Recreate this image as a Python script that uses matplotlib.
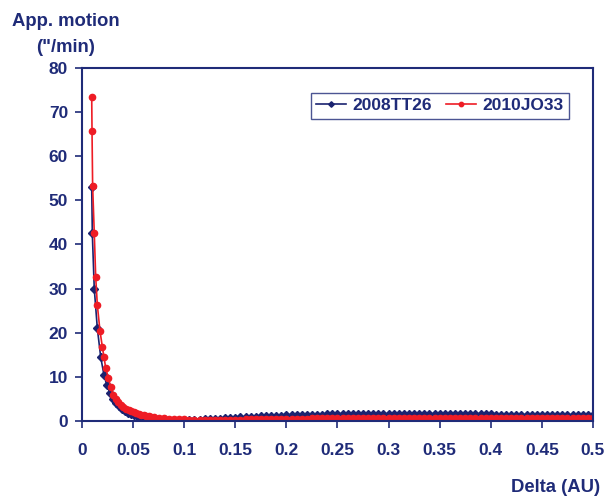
import matplotlib
matplotlib.use('Agg')
import matplotlib.pyplot as plt

plt.rcParams['font.family'] = ['Liberation Sans', 'DejaVu Sans']
plt.rcParams['font.weight'] = 'bold'

navy = '#1f2b78'
blue = '#1a2370'
red = '#ee1c25'

# 2008TT26 close to the Earth
tt26_head_delta = [0.0095, 0.0101, 0.012, 0.015, 0.0183, 0.0215, 0.0242, 0.0274, 0.030, 0.033,
                   0.036, 0.039, 0.042, 0.045, 0.048, 0.051, 0.054, 0.057, 0.060]
tt26_head_motion = [53.0, 42.5, 30.0, 21.0, 14.5, 10.4, 8.2, 6.3, 5.0, 4.1,
                    3.3, 2.7, 2.2, 1.85, 1.55, 1.3, 1.1, 0.9, 0.75]

# common delta grid further out
tail_delta = [0.065, 0.070, 0.075, 0.080, 0.085, 0.090, 0.095, 0.100, 0.105, 0.110,
              0.115, 0.120, 0.125, 0.130, 0.135, 0.140, 0.145, 0.150, 0.155, 0.160,
              0.165, 0.170, 0.175, 0.180, 0.185, 0.190, 0.195, 0.200, 0.205, 0.210,
              0.215, 0.220, 0.225, 0.230, 0.235, 0.240, 0.245, 0.250, 0.255, 0.260,
              0.265, 0.270, 0.275, 0.280, 0.285, 0.290, 0.295, 0.300, 0.305, 0.310,
              0.315, 0.320, 0.325, 0.330, 0.335, 0.340, 0.345, 0.350, 0.355, 0.360,
              0.365, 0.370, 0.375, 0.380, 0.385, 0.390, 0.395, 0.400, 0.405, 0.410,
              0.415, 0.420, 0.425, 0.430, 0.435, 0.440, 0.445, 0.450, 0.455, 0.460,
              0.465, 0.470, 0.475, 0.480, 0.485, 0.490, 0.495, 0.500]

tt26_tail_motion = [0.55, 0.42, 0.32, 0.25, 0.21, 0.19, 0.19, 0.21, 0.24, 0.28,
                    0.33, 0.38, 0.44, 0.50, 0.56, 0.62, 0.68, 0.74, 0.80, 0.86,
                    0.92, 0.97, 1.02, 1.07, 1.12, 1.17, 1.21, 1.25, 1.29, 1.33,
                    1.36, 1.39, 1.42, 1.45, 1.47, 1.49, 1.51, 1.53, 1.54, 1.55,
                    1.56, 1.57, 1.57, 1.58, 1.58, 1.58, 1.58, 1.58, 1.58, 1.57,
                    1.57, 1.57, 1.56, 1.56, 1.55, 1.55, 1.54, 1.54, 1.53, 1.53,
                    1.52, 1.52, 1.51, 1.50, 1.50, 1.49, 1.49, 1.48, 1.47, 1.47,
                    1.46, 1.45, 1.45, 1.44, 1.43, 1.43, 1.42, 1.41, 1.41, 1.40,
                    1.39, 1.39, 1.38, 1.37, 1.37, 1.36, 1.35, 1.35]

# 2010JO33
jo33_head_delta = [0.0095, 0.0098, 0.0104, 0.0120, 0.0134, 0.0150, 0.0176, 0.0199, 0.0215, 0.0232,
                   0.0257, 0.0281, 0.0306, 0.0330, 0.0355, 0.0380, 0.0405, 0.0430, 0.0455, 0.0480,
                   0.0505, 0.0530, 0.0555, 0.0580, 0.0605, 0.0630, 0.0655, 0.0680, 0.0705]
jo33_head_motion = [73.5, 65.8, 53.3, 42.6, 32.6, 26.3, 20.4, 16.8, 14.5, 12.0,
                    9.8, 7.7, 5.9, 5.0, 4.3, 3.7, 3.2, 2.8, 2.5, 2.25,
                    2.0, 1.8, 1.6, 1.45, 1.3, 1.18, 1.07, 0.97, 0.88]
jo33_tail_motion = [0.75, 0.63, 0.53, 0.45, 0.39, 0.34, 0.30, 0.27, 0.25, 0.24,
                    0.24, 0.24, 0.25, 0.26, 0.28, 0.30, 0.32, 0.34, 0.36, 0.38,
                    0.40, 0.42, 0.44, 0.46, 0.48, 0.50, 0.52, 0.53, 0.55, 0.56,
                    0.58, 0.59, 0.60, 0.61, 0.62, 0.63, 0.64, 0.65, 0.66, 0.67,
                    0.67, 0.68, 0.69, 0.69, 0.70, 0.70,
                    0.71, 0.71, 0.72, 0.72, 0.72, 0.73, 0.73, 0.73, 0.73, 0.74,
                    0.74, 0.74, 0.74, 0.74, 0.74, 0.74, 0.74, 0.74, 0.74, 0.74,
                    0.74, 0.73, 0.73, 0.73, 0.73, 0.73, 0.72, 0.72, 0.72, 0.72,
                    0.71, 0.71, 0.71, 0.70, 0.70, 0.70, 0.69, 0.69, 0.69, 0.68]

xticks = [0, 0.05, 0.1, 0.15, 0.2, 0.25, 0.3, 0.35, 0.4, 0.45, 0.5]
xticklabels = ['0', '0.05', '0.1', '0.15', '0.2', '0.25', '0.3', '0.35', '0.4', '0.45', '0.5']
yticks = [0, 10, 20, 30, 40, 50, 60, 70, 80]

fig = plt.figure(figsize=(6.11, 4.99), dpi=100)
ax = fig.add_axes([82 / 611, 1 - 421 / 499, 511 / 611, 353 / 499])

ax.plot(tt26_head_delta + tail_delta, tt26_head_motion + tt26_tail_motion,
        color=blue, lw=1.2, marker='D', ms=4.0, mec=blue, mfc=blue, label='2008TT26')
ax.plot(jo33_head_delta + tail_delta[2:], jo33_head_motion + jo33_tail_motion,
        color=red, lw=1.2, marker='o', ms=4.5, mec=red, mfc=red, label='2010JO33')

ax.set_xlim(0, 0.5)
ax.set_ylim(0, 80)
ax.set_xticks(xticks)
ax.set_xticklabels(xticklabels)
ax.set_yticks(yticks)

for s in ax.spines.values():
    s.set_color(navy)
    s.set_linewidth(1.5)

ax.tick_params(axis='both', direction='out', length=5, width=1.2, color=navy,
               labelcolor=navy, labelsize=12.5)
ax.tick_params(axis='x', pad=11)
ax.tick_params(axis='y', pad=5)

fig.text(66 / 611, 1 - 22 / 499, 'App. motion', ha='center', va='center',
         color=navy, fontsize=13.3, fontweight='bold')
fig.text(66 / 611, 1 - 47 / 499, '("/min)', ha='center', va='center',
         color=navy, fontsize=13.3, fontweight='bold')
fig.text(600 / 611, 1 - 488 / 499, 'Delta (AU)', ha='right', va='center',
         color=navy, fontsize=13.3, fontweight='bold')

leg = ax.legend(loc='upper right', bbox_to_anchor=(569 / 611, 1 - 93 / 499),
                bbox_transform=fig.transFigure, ncol=2, frameon=True, fancybox=False,
                fontsize=12.5, handlelength=1.7, handletextpad=0.4, columnspacing=0.8,
                borderpad=0.3, borderaxespad=0, markerscale=0.7)
leg.get_frame().set_edgecolor(navy)
leg.get_frame().set_linewidth(1.0)
for t in leg.get_texts():
    t.set_color(navy)

fig.savefig('out.png', dpi=100, facecolor='white')
